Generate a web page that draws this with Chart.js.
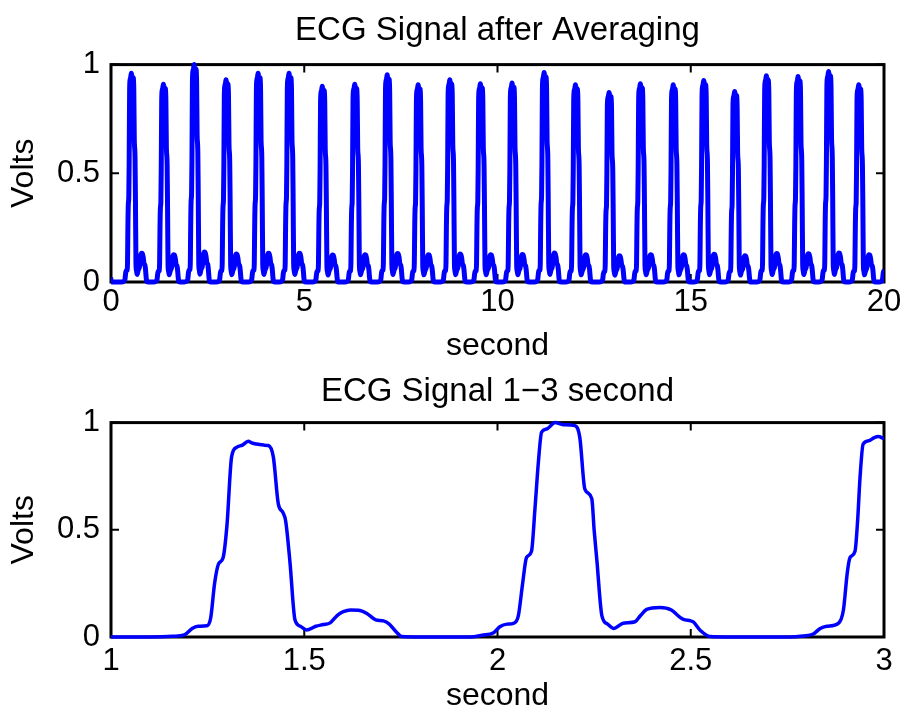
<!DOCTYPE html>
<html>
<head>
<meta charset="utf-8">
<title>ECG Signal</title>
<script src="https://cdn.jsdelivr.net/npm/chart.js@4"></script>
<style>
  body { margin: 0; background: #fff; }
  #wrap { position: relative; width: 903px; height: 716px; }
  canvas { position: absolute; left: 0; }
</style>
</head>
<body>
<div id="wrap">
  <canvas id="avgChart" width="903" height="365" style="top:0"></canvas>
  <canvas id="zoomChart" width="903" height="351" style="top:365px"></canvas>
</div>
<script>
// One averaged heartbeat: time offset from the R peak (s) and volts
const beatOffsets = [-0.27, -0.21, -0.18, -0.16, -0.145, -0.122, -0.112, -0.102, -0.092, -0.08,
  -0.07, -0.058, -0.045, -0.03, -0.015, -0.005, 0.007, 0.025, 0.037, 0.05,
  0.063, 0.075, 0.082, 0.093, 0.106, 0.12, 0.136, 0.16, 0.179, 0.197,
  0.215, 0.231, 0.25, 0.27, 0.292, 0.315, 0.335, 0.35, 0.37, 0.382, 0.43];
const beatShape = [0, 0.003, 0.01, 0.04, 0.05, 0.052, 0.09, 0.25, 0.34, 0.37,
  0.52, 0.84, 0.885, 0.895, 0.913, 0.905, 0.90, 0.895, 0.893, 0.84,
  0.62, 0.58, 0.54, 0.35, 0.08, 0.05, 0.033, 0.05, 0.058, 0.066,
  0.1, 0.118, 0.126, 0.125, 0.11, 0.08, 0.075, 0.06, 0.02, 0.002, 0];

// R peak times (s) and peak heights (V) over the 20 s record
const peakTimes = [-0.38, 0.54, 1.37, 2.165, 2.99, 3.82, 4.62, 5.48, 6.32, 7.16,
  7.96, 8.78, 9.57, 10.39, 11.22, 12.03, 12.90, 13.71, 14.56, 15.35,
  16.15, 16.97, 17.79, 18.58, 19.36, 20.14];
const peakHeights = [0.93, 0.96, 0.91, 1.0, 0.93, 0.96, 0.96, 0.90, 0.91, 0.953,
  0.907, 0.93, 0.912, 0.915, 0.964, 0.907, 0.872, 0.912, 0.907, 0.927,
  0.876, 0.949, 0.945, 0.968, 0.907, 0.93];

// Close-up of the 1-3 s window
const windowTimes = [1.00, 1.10, 1.16, 1.19, 1.21, 1.225, 1.248, 1.258, 1.268, 1.278,
  1.29, 1.30, 1.312, 1.325, 1.34, 1.355, 1.365, 1.377, 1.395, 1.407,
  1.42, 1.433, 1.445, 1.452, 1.463, 1.476, 1.49, 1.506, 1.53, 1.549,
  1.567, 1.585, 1.601, 1.62, 1.64, 1.662, 1.685, 1.705, 1.72, 1.74,
  1.752, 1.80, 1.93, 1.96, 1.99, 2.006, 2.025, 2.041, 2.054, 2.065,
  2.075, 2.088, 2.097, 2.106, 2.114, 2.127, 2.149, 2.17, 2.2, 2.213,
  2.226, 2.244, 2.25, 2.257, 2.27, 2.285, 2.3, 2.325, 2.356, 2.37,
  2.386, 2.42, 2.45, 2.47, 2.481, 2.5, 2.507, 2.525, 2.55, 2.6,
  2.757, 2.79, 2.817, 2.835, 2.852, 2.882, 2.895, 2.905, 2.912, 2.925,
  2.932, 2.938, 2.946, 2.96, 2.975, 2.985, 3.0];
const windowVolts = [0, 0, 0.003, 0.01, 0.04, 0.05, 0.052, 0.09, 0.25, 0.34,
  0.37, 0.52, 0.84, 0.885, 0.895, 0.913, 0.905, 0.90, 0.895, 0.893,
  0.84, 0.62, 0.58, 0.54, 0.35, 0.08, 0.05, 0.033, 0.05, 0.058,
  0.066, 0.1, 0.118, 0.126, 0.125, 0.11, 0.08, 0.075, 0.06, 0.02,
  0.002, 0, 0, 0.008, 0.02, 0.048, 0.06, 0.064, 0.1, 0.25,
  0.37, 0.40, 0.6, 0.82, 0.955, 0.97, 1.0, 0.99, 0.986, 0.93,
  0.69, 0.645, 0.5, 0.36, 0.1, 0.06, 0.04, 0.064, 0.071, 0.1,
  0.129, 0.138, 0.126, 0.095, 0.082, 0.075, 0.07, 0.03, 0.002, 0,
  0, 0.005, 0.014, 0.04, 0.05, 0.064, 0.126, 0.3, 0.37, 0.40,
  0.55, 0.745, 0.90, 0.915, 0.93, 0.935, 0.925];

const FAMILY = '"Liberation Sans", Arial, Helvetica, sans-serif';
const TICK_FONT = { family: FAMILY, size: 31, lineHeight: 1.2 };
const LABEL_FONT = { family: FAMILY, size: 32, lineHeight: 1.2 };
const TITLE_FONT = { family: FAMILY, size: 33, lineHeight: 1.2, weight: 'normal' };
const BLUE = '#0000ff';
Chart.defaults.color = '#000';

// lay the averaged beat down at each R peak, scaled to that peak's height
const shapePeak = Math.max(...beatShape);
const recordPoints = [];
peakTimes.forEach((t0, i) => {
  const k = peakHeights[i] / shapePeak;
  beatOffsets.forEach((dt, j) => recordPoints.push({ x: t0 + dt, y: beatShape[j] * k }));
});
const windowPoints = windowTimes.map((t, i) => ({ x: t, y: windowVolts[i] }));

// boxed axes with inward tick marks on all four sides
const boxFrame = {
  id: 'boxFrame',
  beforeDatasetsDraw(chart) {
    const { ctx, chartArea: a, scales: { x, y } } = chart;
    ctx.save();
    ctx.strokeStyle = '#000';
    ctx.lineWidth = 3;
    ctx.strokeRect(a.left, a.top, a.right - a.left, a.bottom - a.top);
    ctx.lineWidth = 2;
    ctx.beginPath();
    x.ticks.forEach(t => {
      const px = x.getPixelForValue(t.value);
      ctx.moveTo(px, a.bottom); ctx.lineTo(px, a.bottom - 8);
      ctx.moveTo(px, a.top); ctx.lineTo(px, a.top + 8);
    });
    y.ticks.forEach(t => {
      const py = y.getPixelForValue(t.value);
      ctx.moveTo(a.left, py); ctx.lineTo(a.left + 8, py);
      ctx.moveTo(a.right, py); ctx.lineTo(a.right - 8, py);
    });
    ctx.stroke();
    ctx.restore();
  }
};

function makeChart(id, cfg) {
  return new Chart(document.getElementById(id), {
    type: 'line',
    data: {
      datasets: [{
        data: cfg.points,
        borderColor: BLUE,
        borderWidth: cfg.lineWidth,
        pointRadius: 0,
        cubicInterpolationMode: 'monotone',
        clip: { left: 0, right: 0, top: false, bottom: false }
      }]
    },
    options: {
      responsive: false,
      animation: false,
      devicePixelRatio: 1,
      layout: { padding: { left: 0, right: 19, top: 0, bottom: 0 } },
      plugins: {
        legend: { display: false },
        tooltip: { enabled: false },
        title: {
          display: true,
          text: cfg.title,
          fullSize: false,
          color: '#000',
          font: TITLE_FONT,
          padding: cfg.titlePad
        }
      },
      scales: {
        x: {
          type: 'linear',
          min: cfg.xMin, max: cfg.xMax,
          grid: { display: false, drawTicks: false },
          border: { display: false },
          ticks: { stepSize: cfg.xStep, font: TICK_FONT, padding: cfg.tickPad, maxRotation: 0, callback: v => String(v) },
          title: { display: true, text: 'second', font: LABEL_FONT, padding: { top: 0, bottom: cfg.xTitlePad } },
          afterFit(s) { s.height = cfg.xHeight; s.paddingLeft = 0; s.paddingRight = 0; }
        },
        y: {
          min: 0, max: 1,
          grid: { display: false, drawTicks: false },
          border: { display: false },
          ticks: { stepSize: 0.5, font: TICK_FONT, padding: 11, callback: v => String(v) },
          title: { display: true, text: 'Volts', font: LABEL_FONT, padding: { top: 5, bottom: 0 } },
          afterFit(s) { s.width = 111; s.paddingTop = 0; s.paddingBottom = 0; }
        }
      }
    },
    plugins: [boxFrame]
  });
}

makeChart('avgChart', {
  points: recordPoints,
  lineWidth: 5,
  title: 'ECG Signal after Averaging',
  titlePad: { top: 11, bottom: 14 },
  xMin: 0, xMax: 20, xStep: 5,
  tickPad: 2, xTitlePad: 0, xHeight: 83
});

makeChart('zoomChart', {
  points: windowPoints,
  lineWidth: 3.5,
  title: 'ECG Signal 1\u22123 second',
  titlePad: { top: 7, bottom: 11 },
  xMin: 1, xMax: 3, xStep: 0.5,
  tickPad: 6, xTitlePad: 1, xHeight: 79
});
</script>
</body>
</html>
